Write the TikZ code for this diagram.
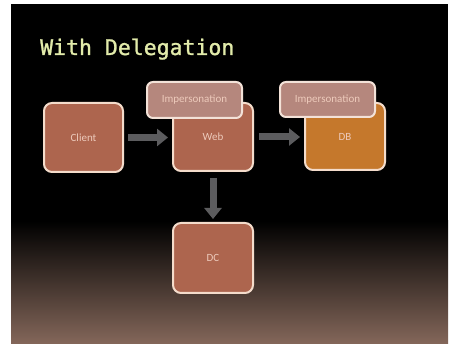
\documentclass[tikz,border=0pt]{standalone}
\usepackage{fontspec}
\setmainfont{Carlito}
\newfontfamily\titlefont[FakeBold=1.2]{DejaVu Sans Mono}
\usetikzlibrary{arrows.meta}
\definecolor{slidebg}{HTML}{000000}
\definecolor{floorbrown}{HTML}{84675A}
\definecolor{boxfill}{HTML}{AD654E}
\definecolor{dbfill}{HTML}{C5782C}
\definecolor{boxline}{HTML}{F4DCCB}
\definecolor{impfill}{HTML}{B5877D}
\definecolor{impline}{HTML}{F3E2D8}
\definecolor{boxtext}{HTML}{EDCABB}
\definecolor{titlecol}{HTML}{E2EBAA}
\definecolor{arrowgrey}{HTML}{5C5C5E}
\tikzset{
  server/.style={draw=boxline, line width=2pt, fill=boxfill, rounded corners=8pt,
    minimum width=80pt, minimum height=68pt, text=boxtext, font=\fontsize{11}{13}\selectfont},
  impbox/.style={draw=impline, line width=2pt, fill=impfill, rounded corners=6pt,
    minimum width=95pt, minimum height=35pt, text=boxtext, font=\fontsize{11}{13}\selectfont},
  flow/.style={draw=arrowgrey, line width=7pt, -{Triangle[length=11pt,width=17pt]}}
}
\begin{document}
\begin{tikzpicture}[x=1pt,y=-1pt]
  % page and slide background
  \useasboundingbox (0,0) rectangle (451,344);
  \fill[white] (0,0) rectangle (451,344);
  \fill[slidebg] (11,4) rectangle (448,222);
  \shade[top color=slidebg, bottom color=floorbrown] (11,221) rectangle (448,344);

  % title
  \node[anchor=base west, inner sep=0pt, text=titlecol, font=\titlefont\fontsize{21.5}{24}\selectfont]
    (title) at (40,55) {With Delegation};

  % machines
  \node[server, minimum width=79pt, minimum height=69pt] (client) at (83.5,137.5) {Client};
  \node[server] (web) at (213,137) {Web};
  \node[server, fill=dbfill, minimum height=67pt] (db) at (345,136.5) {DB};
  \node[server, minimum height=70pt] (dc) at (213,258) {DC};

  % impersonation tags on top of the servers
  \node[impbox, minimum height=36pt] (impweb) at (194.5,100) {Impersonation};
  \node[impbox] (impdb) at (327.5,99.5) {Impersonation};

  % flow arrows
  \draw[flow, shorten <=4pt, shorten >=4pt] (client.east) -- (client.east -| web.west);
  \draw[flow, shorten <=5pt, shorten >=4pt] (web.east) -- (web.east -| db.west);
  \draw[flow, shorten <=6pt, shorten >=3pt] (web.south) -- (dc.north);
\end{tikzpicture}
\end{document}
